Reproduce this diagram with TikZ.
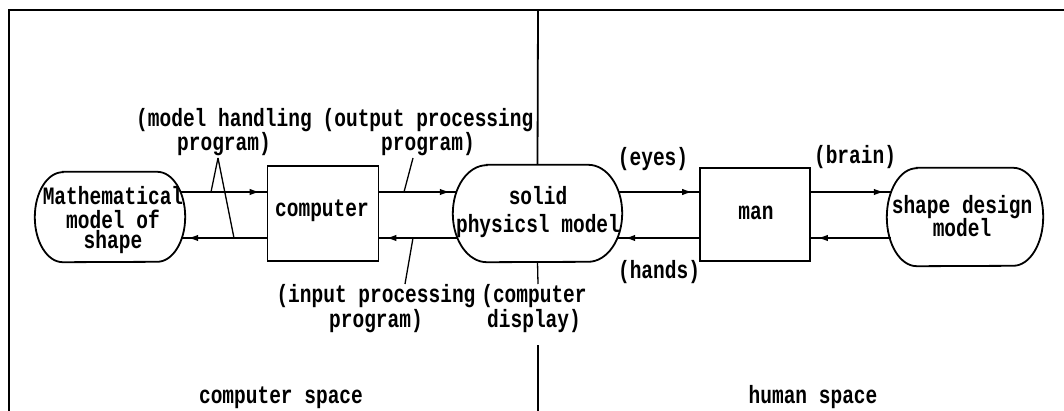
\documentclass[tikz,border=0pt]{standalone}
\usepackage{fontspec}
\newfontfamily\diagfont{Liberation Mono}[FakeStretch=0.78]
\usetikzlibrary{arrows.meta,decorations.markings}

% outline of a capsule-shaped node: straight top and bottom, elliptic ends
% #1 node name, #2 horizontal radius of the ends, #3 vertical radius
\newcommand\capsuleoutline[3]{%
  \draw[outline] ([xshift=#2pt]#1.north west) -- ([xshift=-#2pt]#1.north east)
    arc[start angle=-90,end angle=90,x radius=#2,y radius=#3]
    -- ([xshift=#2pt]#1.south west)
    arc[start angle=90,end angle=270,x radius=#2,y radius=#3] -- cycle;}

\begin{document}
\begin{tikzpicture}[x=1pt,y=-1pt,
  every node/.style={font=\diagfont\bfseries\fontsize{25}{22}\selectfont, inner sep=0pt},
  outline/.style={line width=1.8pt},
  frame/.style={line width=1.8pt},
  capsule/.style={rectangle},
  boxnode/.style={draw, line width=1.8pt, rectangle},
  txt/.style={anchor=base, align=center},
  leader/.style={line width=1.3pt},
  flow/.style={line width=1.3pt, postaction={decorate},
    decoration={markings, mark=at position -7pt with {\arrow{Latex[length=10pt,width=6.5pt]}}}},
]
\useasboundingbox (0,0) rectangle (1064,411);

% frame
\draw[frame] (9,411) -- (9,10) -- (1064,10);

% levels of the two flow lines
\coordinate (hi) at (0,192);
\coordinate (lo) at (0,238);

% nodes and their outlines
\node[capsule, minimum width=150, minimum height=90] (math) at (110,217) {};
\capsuleoutline{math}{28}{45}
\node[boxnode, minimum width=111, minimum height=95] (comp) at (323,213.5) {};
\node[capsule, minimum width=169, minimum height=97] (solid) at (537.5,213.5) {};
\capsuleoutline{solid}{34}{48.5}
\node[boxnode, minimum width=110, minimum height=93] (man) at (755,214.5) {};
\node[capsule, minimum width=156, minimum height=98] (shape) at (965,217) {};
\capsuleoutline{shape}{30}{49}

% texts inside the nodes (a multi-line text sits on the baseline of its last line)
\node[txt] (mathtxt) at (113,249) {Mathematical\\[2pt]model of\\[-2pt]shape};
\node[txt] (comptxt) at (322,217) {computer};
\node[txt] (solidtxt) at (538,233) {solid\\[6pt]physicsl model};
\node[txt] (mantxt) at (756,220) {man};
\node[txt] (shapetxt) at (962,237) {shape design\\[-1pt]model};

% flows
\draw[flow] ([xshift=-4pt]math.east |- hi) -- (comp.west |- hi);
\draw[flow] (comp.west |- lo) -- ([xshift=-4pt]math.east |- lo);
\draw[flow] (comp.east |- hi) -- ([xshift=4pt]solid.west |- hi);
\draw[flow] ([xshift=4pt]solid.west |- lo) -- (comp.east |- lo);
\draw[flow] ([xshift=-4pt]solid.east |- hi) -- (man.west |- hi);
\draw[flow] (man.west |- lo) -- ([xshift=-4pt]solid.east |- lo);
\draw[flow] (man.east |- hi) -- ([xshift=4pt]shape.west |- hi);
\draw[flow] ([xshift=4pt]shape.west |- lo) -- (man.east |- lo);

% labels
\node[txt] (mh) at (224,151) {(model handling\\program)};
\node[txt] (op) at (428,151) {(output processing\\program)};
\node[txt] (ip) at (376,327) {(input processing\\program)};
\node[txt] (cd) at (534,327) {(computer\\display)};
\node[txt] (eyes) at (653,166) {(eyes)};
\node[txt] (hands) at (659,279) {(hands)};
\node[txt] (brain) at (855,164) {(brain)};
\node[txt] (cspace) at (281,403) {computer space};
\node[txt] (hspace) at (813,403) {human space};

% leader lines
\coordinate (mhapex) at (218,158);
\coordinate (mhhi) at (211,192);
\coordinate (mhlo) at (234,238);
\coordinate (optop) at (413,158);
\coordinate (ophi) at (404,192);
\coordinate (iplo) at (413,238);
\coordinate (ipend) at (405,284);
\draw[leader] (mhapex) -- (mhhi);
\draw[leader] (mhapex) -- (mhlo);
\draw[leader] (optop) -- (ophi);
\draw[leader] (iplo) -- (ipend);

% divider between computer space and human space
\coordinate (divtop) at (538,10);
\coordinate (cdtick) at (538,284);
\coordinate (divlow) at (538,345);
\coordinate (divbot) at (538,411);
\draw[frame] (divtop) -- (solid.north);
\draw[leader] (solid.south) -- (cdtick);
\draw[frame] (divlow) -- (divbot);
\end{tikzpicture}
\end{document}
